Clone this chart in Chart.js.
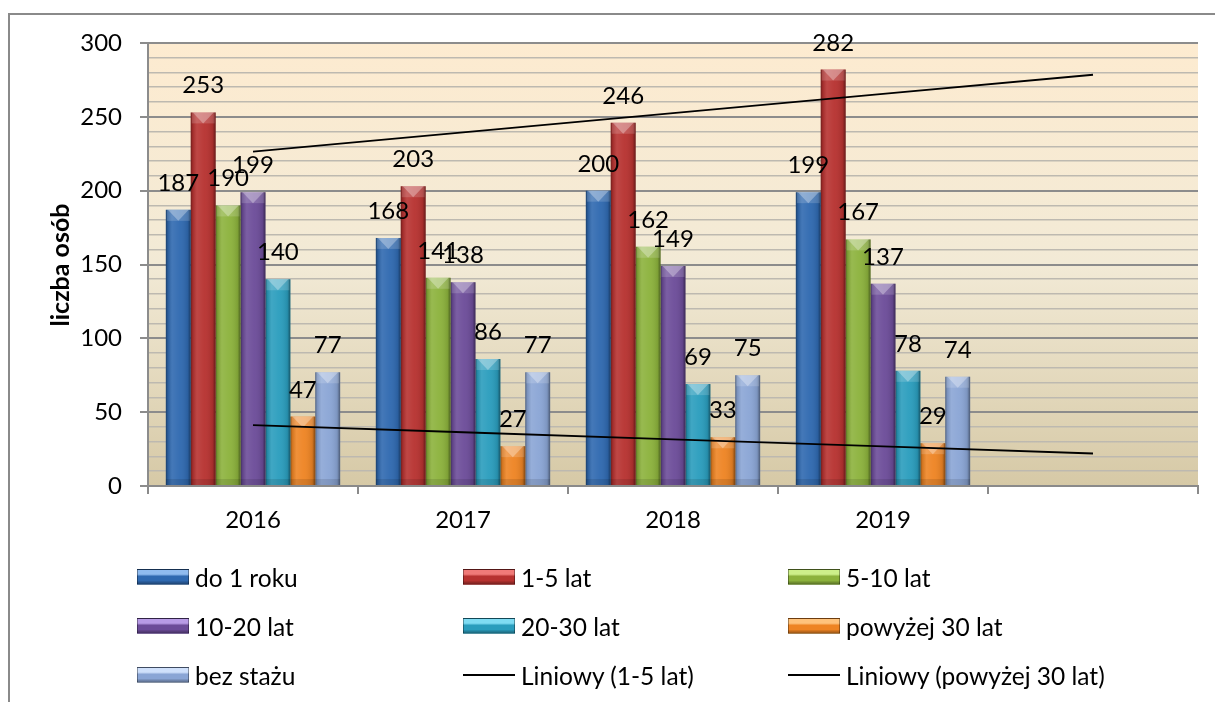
<!DOCTYPE html>
<html>
<head>
<meta charset="utf-8">
<script src="https://cdn.jsdelivr.net/npm/chart.js@4/dist/chart.umd.min.js"></script>
<style>
  html, body { margin: 0; padding: 0; background: #fff; }
  #wrap { position: relative; width: 1215px; height: 702px; overflow: hidden; font-family: Lato, "Open Sans", sans-serif; }
  #frame { position: absolute; left: 8px; top: 13px; width: 1240px; height: 720px; border: 2px solid #8a8a8a; box-sizing: border-box; }
  canvas { position: absolute; left: 0; top: 0; }
  .lg { position: absolute; display: flex; align-items: center; font-size: 24.5px; color: #000; height: 30px; white-space: nowrap; }
  .sw { width: 52px; height: 16px; margin-right: 6px; box-sizing: border-box; border: 1px solid rgba(0,0,0,0.35); }
  .ln { width: 52px; height: 2px; background: #000; margin-right: 6px; }
</style>
</head>
<body>
<div id="wrap">
  <div id="frame"></div>
  <canvas id="c" width="1215" height="702"></canvas>
  <div id="legend"></div>
</div>
<script>
// ---- data ----
const categories = ['2016', '2017', '2018', '2019', ''];
const seriesNames = ['do 1 roku', '1-5 lat', '5-10 lat', '10-20 lat', '20-30 lat', 'powyżej 30 lat', 'bez stażu'];
const doRoku    = [187, 168, 200, 199];
const lat1_5    = [253, 203, 246, 282];
const lat5_10   = [190, 141, 162, 167];
const lat10_20  = [199, 138, 149, 137];
const lat20_30  = [140, 86, 69, 78];
const powyzej30 = [47, 27, 33, 29];
const bezStazu  = [77, 77, 75, 74];
const trendNames = ['Liniowy (1-5 lat)', 'Liniowy (powyżej 30 lat)'];
const yTicks = [0, 50, 100, 150, 200, 250, 300];

const barColors = ['#2f69b0', '#b73230', '#8cb23c', '#6c4c99', '#2a9dbd', '#ee8423', '#8aa5d5'];
const barLights = ['#8fbbef', '#f07a78', '#cdef8a', '#b89be6', '#7fdcf3', '#ffc37c', '#cfe0fb'];

// Linear least-squares trend (the spreadsheet's "Liniowy" trendline), extended 1 period forward
function linearTrend(values, nOut) {
  const n = values.length;
  const xs = values.map((_, i) => i + 1);
  const mx = xs.reduce((a, b) => a + b, 0) / n;
  const my = values.reduce((a, b) => a + b, 0) / n;
  let sxy = 0, sxx = 0;
  for (let i = 0; i < n; i++) { sxy += (xs[i] - mx) * (values[i] - my); sxx += (xs[i] - mx) ** 2; }
  const b = sxy / sxx, a = my - b * mx;
  const out = [];
  for (let i = 1; i <= nOut; i++) out.push(a + b * i);
  return out;
}

const barSeries = [doRoku, lat1_5, lat5_10, lat10_20, lat20_30, powyzej30, bezStazu];
const FONT = 'Lato, "Open Sans", sans-serif';

const datasets = barSeries.map((d, i) => ({
  type: 'bar',
  label: seriesNames[i],
  data: d,
  backgroundColor: barColors[i],
  borderWidth: 0,
  categoryPercentage: 0.83,
  barPercentage: 1.0,
  order: 1
}));
datasets.push({
  type: 'line', label: trendNames[0], data: linearTrend(lat1_5, categories.length),
  borderColor: '#000', borderWidth: 1.8, pointRadius: 0, fill: false, tension: 0, order: 0
});
datasets.push({
  type: 'line', label: trendNames[1], data: linearTrend(powyzej30, categories.length),
  borderColor: '#000', borderWidth: 1.8, pointRadius: 0, fill: false, tension: 0, order: 0
});

const bgPlugin = {
  id: 'bg',
  beforeDraw(chart) {
    const { ctx, chartArea: a } = chart;
    const g = ctx.createLinearGradient(0, a.top, 0, a.bottom);
    g.addColorStop(0, '#fdebd0');
    g.addColorStop(0.5, '#f2ead6');
    g.addColorStop(1, '#d6c9a6');
    ctx.save();
    ctx.fillStyle = g;
    ctx.fillRect(a.left, a.top, a.right - a.left, a.bottom - a.top);
    ctx.restore();
  }
};

const bevelPlugin = {
  id: 'bevel',
  afterDatasetDraw(chart, args) {
    const meta = args.meta;
    if (meta.type !== 'bar') return;
    const ctx = chart.ctx;
    ctx.save();
    meta.data.forEach(el => {
      if (el.skip || el.y == null || isNaN(el.y)) return;
      const w = el.width, x0 = el.x - w / 2, x1 = el.x + w / 2, top = el.y, bot = el.base;
      const g = ctx.createLinearGradient(x0, 0, x1, 0);
      g.addColorStop(0, 'rgba(0,0,0,0.40)');
      g.addColorStop(0.08, 'rgba(0,0,0,0.12)');
      g.addColorStop(0.25, 'rgba(255,255,255,0.10)');
      g.addColorStop(0.55, 'rgba(255,255,255,0.04)');
      g.addColorStop(0.88, 'rgba(0,0,0,0.10)');
      g.addColorStop(1, 'rgba(0,0,0,0.45)');
      ctx.fillStyle = g;
      ctx.fillRect(x0, top, w, bot - top);
      const h = Math.min(11, (bot - top) / 2);
      ctx.fillStyle = 'rgba(255,255,255,0.16)';
      ctx.fillRect(x0 + 1, top, w - 2, h);
      ctx.beginPath();
      ctx.moveTo(x0 + 2, top);
      ctx.lineTo(x1 - 2, top);
      ctx.lineTo(el.x, top + h);
      ctx.closePath();
      ctx.fillStyle = 'rgba(255,255,255,0.30)';
      ctx.fill();
      ctx.fillStyle = 'rgba(0,0,0,0.10)';
      ctx.fillRect(x0, bot - 6, w, 6);
    });
    ctx.restore();
  }
};

const labelPlugin = {
  id: 'labels',
  afterDatasetsDraw(chart) {
    const ctx = chart.ctx;
    ctx.save();
    ctx.font = '24px ' + FONT;
    ctx.fillStyle = '#000';
    ctx.textAlign = 'center';
    ctx.textBaseline = 'alphabetic';
    chart.data.datasets.forEach((ds, di) => {
      if (ds.type !== 'bar') return;
      const meta = chart.getDatasetMeta(di);
      meta.data.forEach((el, i) => {
        const v = ds.data[i];
        if (v == null) return;
        ctx.fillText(String(v), el.x, el.y - 19);
      });
    });
    ctx.restore();
  },
  afterDraw(chart) {
    const ctx = chart.ctx;
    ctx.save();
    ctx.translate(61, 265);
    ctx.rotate(-Math.PI / 2);
    ctx.font = 'bold 25px ' + FONT;
    ctx.fillStyle = '#000';
    ctx.textAlign = 'center';
    ctx.textBaseline = 'middle';
    ctx.fillText('liczba osób', 0, 0);
    ctx.restore();
  }
};

new Chart(document.getElementById('c'), {
  data: { labels: categories, datasets },
  options: {
    responsive: false,
    animation: false,
    layout: { padding: { top: 43, right: 17, left: 0, bottom: 0 } },
    plugins: { legend: { display: false }, tooltip: { enabled: false } },
    scales: {
      x: {
        type: 'category',
        offset: true,
        grid: { offset: true, drawOnChartArea: false, drawTicks: true, tickLength: 8, color: '#8a8a8a', lineWidth: 2 },
        border: { color: '#8a8a8a', width: 2 },
        ticks: { font: { family: FONT, size: 24 }, color: '#000', padding: 12, maxRotation: 0, autoSkip: false },
        afterFit(s) { s.height = 702 - 486; }
      },
      y: {
        min: 0, max: 300,
        afterBuildTicks(s) {
          const t = [];
          for (let v = 0; v <= 300; v += 10) t.push({ value: v });
          s.ticks = t;
        },
        ticks: {
          font: { family: FONT, size: 24 }, color: '#000', padding: 18, autoSkip: false,
          callback: (v) => yTicks.includes(v) ? String(v) : ''
        },
        grid: {
          drawTicks: true, tickLength: 8,
          color: (c) => (c.tick && yTicks.includes(c.tick.value)) ? '#8c8c8c' : '#bdb9b0',
          lineWidth: (c) => (c.tick && yTicks.includes(c.tick.value)) ? 2 : 1.6,
          tickColor: (c) => (c.tick && yTicks.includes(c.tick.value)) ? '#8c8c8c' : 'rgba(0,0,0,0)'
        },
        border: { color: '#8c8c8c', width: 2 },
        afterFit(s) { s.width = 148; }
      }
    }
  },
  plugins: [bgPlugin, bevelPlugin, labelPlugin]
});

// ---- legend (HTML) ----
const legendItems = [
  ...seriesNames.map((n, i) => ({ name: n, kind: 'bar', idx: i })),
  { name: trendNames[0], kind: 'line' },
  { name: trendNames[1], kind: 'line' }
];
const colX = [137, 463, 788];
const rowY = [577, 626, 675];
const lg = document.getElementById('legend');
legendItems.forEach((it, k) => {
  const d = document.createElement('div');
  d.className = 'lg';
  d.style.left = colX[k % 3] + 'px';
  d.style.top = (rowY[Math.floor(k / 3)] - 15) + 'px';
  const s = document.createElement('div');
  if (it.kind === 'bar') {
    s.className = 'sw';
    const c = barColors[it.idx], l = barLights[it.idx];
    s.style.background = `linear-gradient(to bottom, ${l} 0%, ${l} 30%, ${c} 45%, ${c} 75%, rgba(0,0,0,0.35) 100%), ${c}`;
  } else {
    s.className = 'ln';
  }
  d.appendChild(s);
  const t = document.createElement('span');
  t.textContent = it.name;
  d.appendChild(t);
  lg.appendChild(d);
});
</script>
</body>
</html>
